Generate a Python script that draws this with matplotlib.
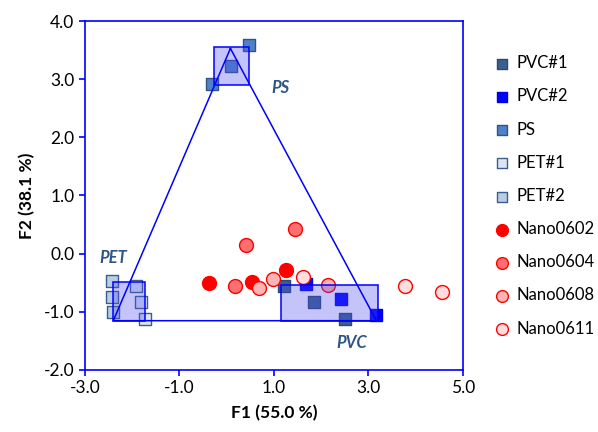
import matplotlib
matplotlib.use("Agg")
import matplotlib.pyplot as plt
from matplotlib.patches import Rectangle

plt.rcParams['font.family'] = ['Lato', 'DejaVu Sans']

# scores (F1, F2)
pvc1_x = [1.21, 1.85, 2.50]
pvc1_y = [-0.56, -0.84, -1.12]
pvc2_x = [1.68, 2.42, 3.16]
pvc2_y = [-0.52, -0.78, -1.06]
ps_x = [-0.31, 0.10, 0.47]
ps_y = [2.92, 3.23, 3.59]
pet1_x = [-1.91, -1.82, -1.72]
pet1_y = [-0.56, -0.84, -1.12]
pet2_x = [-2.42, -2.42, -2.40]
pet2_y = [-0.48, -0.75, -1.01]

n0602_x = [-0.38, 0.53, 1.25]
n0602_y = [-0.51, -0.49, -0.28]
n0604_x = [0.42, 1.45, 0.17]
n0604_y = [0.14, 0.42, -0.55]
n0608_x = [0.69, 0.98, 2.15]
n0608_y = [-0.59, -0.44, -0.54]
n0611_x = [1.62, 3.77, 4.55]
n0611_y = [-0.41, -0.56, -0.66]

# group boxes: (xmin, xmax, ymin, ymax)
ps_box = (-0.27, 0.48, 2.90, 3.55)
pet_box = (-2.40, -1.72, -1.155, -0.49)
pvc_box = (1.15, 3.21, -1.155, -0.54)
tri_x = [0.08, -2.40, 3.17, 0.08]
tri_y = [3.53, -1.155, -1.155, 3.53]

fig = plt.figure(figsize=(5.98, 4.32), dpi=100)
ax = fig.add_axes([0.142, 0.144, 0.632, 0.807])

sq = 78
ci = 100
ax.scatter(pvc1_x, pvc1_y, marker='s', s=sq, c='#3A5F8F', edgecolors='#2B4A73', lw=1, label='PVC#1', zorder=2)
ax.scatter(pvc2_x, pvc2_y, marker='s', s=sq, c='#0000FF', edgecolors='#0000E0', lw=1, label='PVC#2', zorder=2)
ax.scatter(ps_x, ps_y, marker='s', s=sq, c='#4F81C8', edgecolors='#2E5585', lw=1, label='PS', zorder=2)
ax.scatter(pet1_x, pet1_y, marker='s', s=sq, c='#DCE6F2', edgecolors='#3A5F8F', lw=1, label='PET#1', zorder=2)
ax.scatter(pet2_x, pet2_y, marker='s', s=sq, c='#B9CDE5', edgecolors='#3A5F8F', lw=1, label='PET#2', zorder=2)
ax.scatter(n0602_x, n0602_y, marker='o', s=ci, c='#FF0000', edgecolors='#FF0000', lw=1, label='Nano0602', zorder=3)
ax.scatter(n0604_x, n0604_y, marker='o', s=ci, c='#FF6F6F', edgecolors='#FF0000', lw=1, label='Nano0604', zorder=3)
ax.scatter(n0608_x, n0608_y, marker='o', s=ci, c='#FFB3B3', edgecolors='#FF0000', lw=1, label='Nano0608', zorder=3)
ax.scatter(n0611_x, n0611_y, marker='o', s=ci, c='#FFDDDD', edgecolors='#FF0000', lw=1, label='Nano0611', zorder=3)

for b in [ps_box, pet_box, pvc_box]:
    ax.add_patch(Rectangle((b[0], b[2]), b[1] - b[0], b[3] - b[2],
                           facecolor=(0.3, 0.3, 0.95, 0.33), edgecolor='#0000FF', lw=1.1, zorder=4))
ax.plot(tri_x, tri_y, color='#0000FF', lw=1.1, zorder=5)

lab = dict(color='#2E5585', fontweight='bold', fontstyle='italic', fontsize=12)
ax.text(1.13, 2.85, 'PS', ha='center', va='center', **lab)
ax.text(-2.40, -0.07, 'PET', ha='center', va='center', **lab)
ax.text(2.64, -1.54, 'PVC', ha='center', va='center', **lab)

ax.set_xlim(-3, 5)
ax.set_ylim(-2, 4)
ax.set_xticks([-3, -1, 1, 3, 5])
ax.set_yticks([-2, -1, 0, 1, 2, 3, 4])
ax.set_xticklabels(['%.1f' % v for v in [-3, -1, 1, 3, 5]])
ax.set_yticklabels(['%.1f' % v for v in [-2, -1, 0, 1, 2, 3, 4]])
for s in ax.spines.values():
    s.set_color('#0000FF')
    s.set_linewidth(1.2)
ax.tick_params(colors='#0000FF', labelcolor='black', labelsize=12.5, direction='out', length=4, width=1.2)
ax.set_xlabel('F1 (55.0 %)', fontsize=12.5, fontweight='bold', labelpad=6)
ax.set_ylabel('F2 (38.1 %)', fontsize=12.5, fontweight='bold', labelpad=6)

fig.legend(loc='upper left', bbox_to_anchor=(0.825, 0.872), frameon=False, fontsize=12,
           labelspacing=1.03, handlelength=1.0, handletextpad=0.4, markerscale=0.85,
           borderaxespad=0, borderpad=0)

fig.savefig('out.png', dpi=100)
